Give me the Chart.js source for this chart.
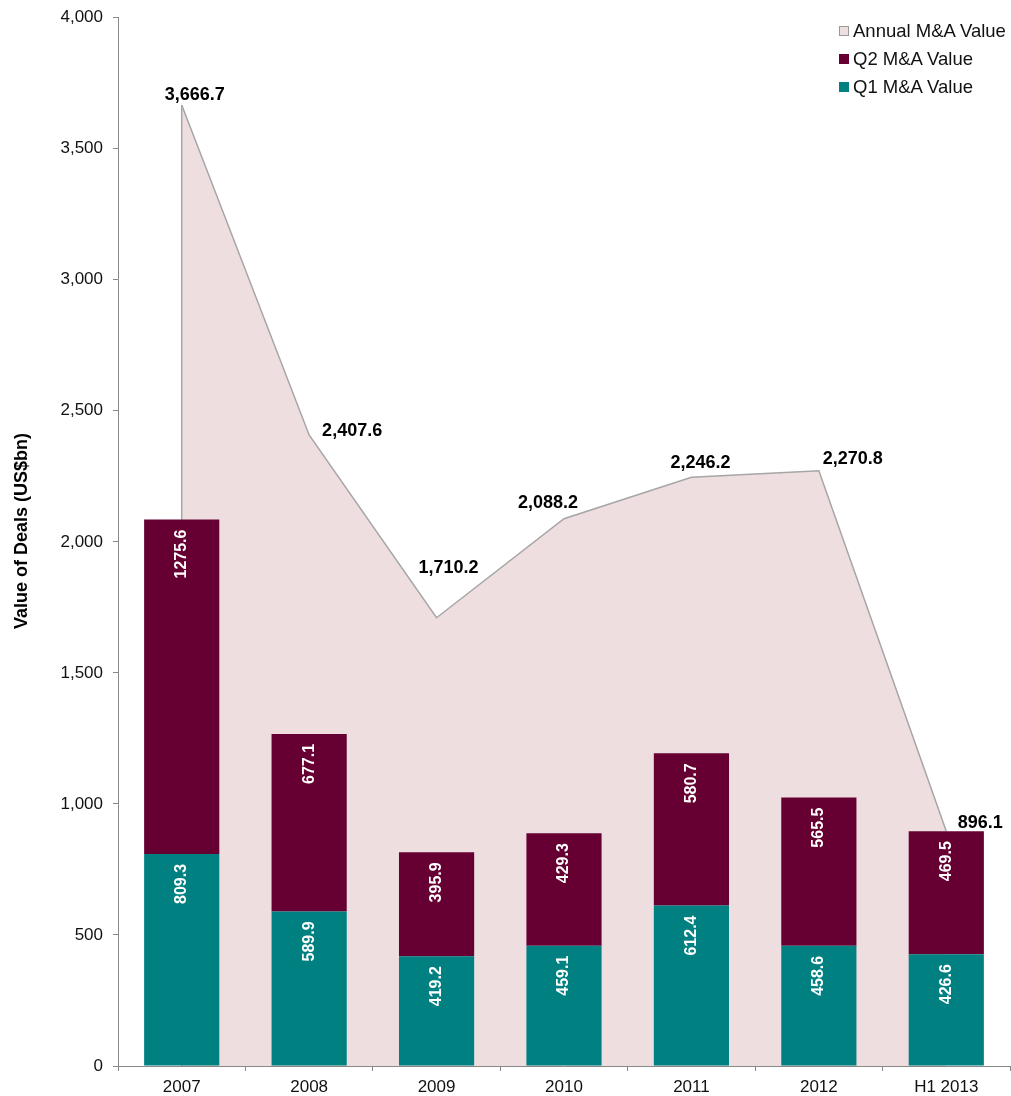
<!DOCTYPE html>
<html>
<head>
<meta charset="utf-8">
<script src="https://cdn.jsdelivr.net/npm/chart.js@4/dist/chart.umd.min.js"></script>
<style>
    html, body { margin: 0; padding: 0; background: #fff; }
    #wrap { position: relative; width: 1011px; height: 1096px; }
    #legend { position: absolute; left: 839px; top: 18px; font-family: "Liberation Sans", Arial, sans-serif; font-size: 18.5px; color: #111; }
    #legend div { height: 28px; line-height: 26px; white-space: nowrap; }
    #legend span { display: inline-block; width: 10px; height: 10px; margin-right: 4px; vertical-align: 1px; box-sizing: border-box; }
</style>
</head>
<body>
<div id="wrap">
    <canvas id="dealsChart" width="1011" height="1096"></canvas>
    <div id="legend">
        <div><span style="background:#EFDEDF; border:1px solid #999;"></span>Annual M&amp;A Value</div>
        <div><span style="background:#660033;"></span>Q2 M&amp;A Value</div>
        <div><span style="background:#008080;"></span>Q1 M&amp;A Value</div>
    </div>
</div>
<script>
// ===========================
// M&A VALUE BY YEAR
// ===========================

const years = ['2007', '2008', '2009', '2010', '2011', '2012', 'H1 2013'];
const q1Values = [809.3, 589.9, 419.2, 459.1, 612.4, 458.6, 426.6];
const q2Values = [1275.6, 677.1, 395.9, 429.3, 580.7, 565.5, 469.5];
const annualValues = [3666.7, 2407.6, 1710.2, 2088.2, 2246.2, 2270.8, 896.1];
const yTicks = [0, 500, 1000, 1500, 2000, 2500, 3000, 3500, 4000];

// where each annual label sits relative to its point (px)
const annualLabelOffsets = [[13, -10], [43, -4], [12, -50], [-16, -16], [9, -14], [34, -12], [34, -8]];

const FONT = '"Liberation Sans", Arial, sans-serif';
const Y_TITLE = 'Value of Deals (US$bn)';

// Left edge of the area: vertical line from the first point down to zero
const areaEdgePlugin = {
    id: 'areaEdge',
    afterDatasetDraw(chart, args) {
        if (args.index !== 0) return;
        const pt = args.meta.data[0];
        const y0 = chart.scales.y.getPixelForValue(0);
        const ctx = chart.ctx;
        ctx.save();
        ctx.strokeStyle = '#A6A6A6';
        ctx.lineWidth = 1.5;
        ctx.beginPath();
        ctx.moveTo(pt.x, pt.y);
        ctx.lineTo(pt.x, y0);
        ctx.stroke();
        ctx.restore();
    }
};

// Value labels: bold black for annual totals, rotated white inside bars
const valueLabelPlugin = {
    id: 'valueLabels',
    afterDatasetsDraw(chart) {
        const ctx = chart.ctx;
        ctx.save();

        chart.getDatasetMeta(0).data.forEach((pt, i) => {
            const [dx, dy] = annualLabelOffsets[i];
            ctx.font = 'bold 18px ' + FONT;
            ctx.fillStyle = '#000';
            ctx.textAlign = 'center';
            ctx.textBaseline = 'middle';
            ctx.fillText(annualValues[i].toLocaleString('en-US', { minimumFractionDigits: 1 }), pt.x + dx, pt.y + dy);
        });

        [1, 2].forEach(di => {
            const values = chart.data.datasets[di].data;
            chart.getDatasetMeta(di).data.forEach((bar, i) => {
                ctx.save();
                ctx.translate(bar.x, bar.y + 10);
                ctx.rotate(-Math.PI / 2);
                ctx.font = 'bold 16px ' + FONT;
                ctx.fillStyle = '#fff';
                ctx.textAlign = 'right';
                ctx.textBaseline = 'middle';
                ctx.fillText(values[i].toFixed(1), 0, 0);
                ctx.restore();
            });
        });

        ctx.restore();
    }
};

// Y axis title, drawn by hand so it can sit a little above the axis middle
const yTitlePlugin = {
    id: 'yTitle',
    afterDraw(chart) {
        const ctx = chart.ctx;
        ctx.save();
        ctx.translate(22, 531);
        ctx.rotate(-Math.PI / 2);
        ctx.font = 'bold 18px ' + FONT;
        ctx.fillStyle = '#000';
        ctx.textAlign = 'center';
        ctx.textBaseline = 'middle';
        ctx.fillText(Y_TITLE, 0, 0);
        ctx.restore();
    }
};

function renderDealsChart() {
    const ctx = document.getElementById('dealsChart').getContext('2d');
    new Chart(ctx, {
        type: 'bar',
        data: {
            labels: years,
            datasets: [
                {
                    type: 'line',
                    label: 'Annual M&A Value',
                    data: annualValues,
                    stack: 'annual',
                    order: 2,
                    fill: 'origin',
                    backgroundColor: '#EFDEDF',
                    borderColor: '#A6A6A6',
                    borderWidth: 1.5,
                    pointRadius: 0,
                    tension: 0
                },
                {
                    label: 'Q1 M&A Value',
                    data: q1Values,
                    stack: 'quarters',
                    order: 1,
                    backgroundColor: '#008080',
                    barPercentage: 0.59,
                    categoryPercentage: 1
                },
                {
                    label: 'Q2 M&A Value',
                    data: q2Values,
                    stack: 'quarters',
                    order: 1,
                    backgroundColor: '#660033',
                    barPercentage: 0.59,
                    categoryPercentage: 1
                }
            ]
        },
        options: {
            responsive: false,
            animation: false,
            layout: { padding: { top: 16, right: 1, left: 0, bottom: 0 } },
            plugins: {
                legend: { display: false },
                tooltip: { enabled: false }
            },
            scales: {
                x: {
                    stacked: true,
                    border: { color: '#888', width: 1 },
                    grid: { drawOnChartArea: false, color: '#888', tickLength: 5, offset: true },
                    ticks: { color: '#111', font: { family: FONT, size: 17 }, padding: 6, maxRotation: 0 },
                    afterFit: scale => { scale.height = 30; }
                },
                y: {
                    stacked: true,
                    min: 0,
                    max: 4000,
                    border: { color: '#888', width: 1 },
                    grid: { drawOnChartArea: false, color: '#888', tickLength: 5 },
                    afterBuildTicks: scale => { scale.ticks = yTicks.map(v => ({ value: v })); },
                    ticks: {
                        color: '#111',
                        font: { family: FONT, size: 17, lineHeight: 0.9 },
                        padding: 10,
                        callback: value => value.toLocaleString('en-US')
                    },
                    afterFit: scale => { scale.width = 118; }
                }
            }
        },
        plugins: [areaEdgePlugin, valueLabelPlugin, yTitlePlugin]
    });
}

renderDealsChart();
</script>
</body>
</html>
